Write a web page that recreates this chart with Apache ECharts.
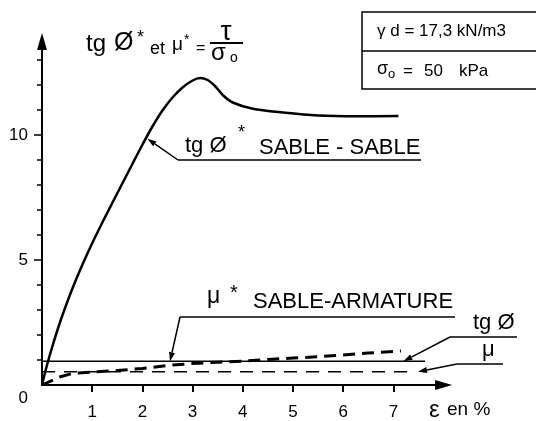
<!DOCTYPE html>
<html>
<head>
<meta charset="utf-8">
<script src="https://cdn.jsdelivr.net/npm/echarts@6/dist/echarts.min.js"></script>
<style>
  html, body { margin: 0; padding: 0; background: #fff; }
  #chart { width: 536px; height: 421px; }
</style>
</head>
<body>
<div id="chart"></div>
<script>
// Strain ε (%) against friction ratio: sand on sand (tg φ*) and sand on strip (μ*)
const sandSandStrain = [0, 0.1, 0.2, 0.3, 0.4, 0.6, 0.8, 1.0, 1.2, 1.4, 1.6, 1.8, 2.0, 2.2, 2.4, 2.6, 2.8, 3.0, 3.15, 3.3, 3.45, 3.6, 3.8, 4.2, 4.8, 5.5, 6.3, 7.1];
const sandSandTan    = [0, 0.8, 1.5, 2.15, 2.75, 3.83, 4.79, 5.67, 6.49, 7.28, 8.06, 8.84, 9.61, 10.34, 10.98, 11.5, 11.9, 12.18, 12.28, 12.2, 11.95, 11.6, 11.3, 11.05, 10.9, 10.78, 10.75, 10.76];

const sandStripStrain = [0, 0.35, 0.6, 1.0, 1.5, 2.0, 2.5, 3.0, 3.5, 4.0, 4.5, 5.0, 5.5, 6.0, 6.5, 7.15];
const sandStripMu     = [0, 0.32, 0.46, 0.52, 0.58, 0.66, 0.78, 0.86, 0.91, 0.95, 1.02, 1.08, 1.13, 1.2, 1.28, 1.36];

// Reference levels: tg φ (solid) and μ (dashed)
const tanPhiStrain = [0, 7.63];
const tanPhiValue  = [0.95, 0.95];
const muStrain = [0, 7.33];
const muValue  = [0.53, 0.53];

// Axis ticks and labels
const xTickValues  = [1, 2, 3, 4, 5, 6, 7];
const yLabelValues = [0, 5, 10];
const yMinorTicks  = [1, 2, 3, 4, 5, 6, 7, 8, 9, 10, 11, 12, 13];
const yMajorTicks  = [5, 10];

const FONT = '"Liberation Sans", Arial, sans-serif';
const INK = '#000';

const pairs = (xs, ys) => xs.map((x, i) => [x, ys[i]]);

const chart = echarts.init(document.getElementById('chart'), null, { renderer: 'canvas' });

const option = {
  animation: false,
  backgroundColor: '#fff',
  grid: { left: 42, right: 92.4, top: 41.5, bottom: 36, containLabel: false },
  xAxis: {
    type: 'value', min: 0, max: 8.0,
    axisLine: { show: true, lineStyle: { color: INK, width: 2 }, symbol: ['none', 'triangle'], symbolSize: [10, 17] },
    axisTick: { show: true, customValues: xTickValues, length: 7, lineStyle: { color: INK, width: 2 } },
    axisLabel: { customValues: xTickValues, margin: 19, fontSize: 17, color: INK, fontFamily: FONT },
    splitLine: { show: false }
  },
  yAxis: [
    {
      type: 'value', min: 0, max: 13.74,
      axisLine: { show: true, lineStyle: { color: INK, width: 2 }, symbol: ['none', 'triangle'], symbolSize: [10, 17] },
      axisTick: { show: true, customValues: yMinorTicks, length: 5, lineStyle: { color: INK, width: 1.5 } },
      axisLabel: {
        customValues: yLabelValues, margin: 14, fontSize: 17, color: INK, fontFamily: FONT,
        formatter: v => (v === 0 ? '{z|0}' : String(v)),
        rich: { z: { fontSize: 17, fontFamily: FONT, color: INK, padding: [26, 0, 0, 0] } }
      },
      splitLine: { show: false }
    },
    {
      type: 'value', min: 0, max: 13.74, position: 'left',
      axisLine: { show: false },
      axisTick: { show: true, customValues: yMajorTicks, length: 8, lineStyle: { color: INK, width: 1.5 } },
      axisLabel: { show: false },
      splitLine: { show: false }
    }
  ],
  series: [
    {
      name: 'tg φ* sable-sable', type: 'line', smooth: 0.3, showSymbol: false,
      lineStyle: { color: INK, width: 2.5 },
      data: pairs(sandSandStrain, sandSandTan)
    },
    {
      name: 'μ* sable-armature', type: 'line', showSymbol: false,
      lineStyle: { color: INK, width: 3, type: [12, 7] },
      data: pairs(sandStripStrain, sandStripMu)
    },
    {
      name: 'tg φ', type: 'line', showSymbol: false,
      lineStyle: { color: INK, width: 1.3 },
      data: pairs(tanPhiStrain, tanPhiValue)
    },
    {
      name: 'μ', type: 'line', showSymbol: false,
      lineStyle: { color: INK, width: 1.3, type: [13, 9] },
      data: pairs(muStrain, muValue)
    }
  ]
};

chart.setOption(option);

// Annotation layer: leaders point at spots on the curves given in data units
const toPx = (x, y) => chart.convertToPixel({ seriesIndex: 0 }, [x, y]);

function leader(from, to) {
  const dx = to[0] - from[0], dy = to[1] - from[1];
  const len = Math.hypot(dx, dy);
  const ux = dx / len, uy = dy / len;
  const hl = 9, hw = 3;
  const bx = to[0] - ux * hl, by = to[1] - uy * hl;
  return [
    { type: 'line', shape: { x1: from[0], y1: from[1], x2: bx, y2: by }, style: { stroke: INK, lineWidth: 1.5 } },
    { type: 'polygon', shape: { points: [to, [bx - uy * hw, by + ux * hw], [bx + uy * hw, by - ux * hw]] }, style: { fill: INK } }
  ];
}
function rule(x1, y1, x2, y2, w) {
  return { type: 'line', shape: { x1, y1, x2, y2 }, style: { stroke: INK, lineWidth: w || 1.5 } };
}
function txt(x, y, text, size, align) {
  return {
    type: 'text', x, y,
    style: { text, font: size + 'px ' + FONT, fill: INK, align: align || 'left', verticalAlign: 'middle' }
  };
}

const graphics = [
  // title: tg Ø* et μ* = τ / σo
  txt(86, 44, 'tg', 24),
  txt(114, 43, 'Ø', 25),
  txt(137, 38, '*', 18),
  txt(150, 49, 'et', 18),
  txt(172, 45, 'μ', 19),
  txt(184, 40, '*', 14),
  txt(196, 49, '=', 16),
  txt(226, 32, 'τ', 28, 'center'),
  rule(210, 43, 243, 43, 2),
  txt(211, 53, 'σ', 24),
  txt(230, 58, 'o', 14),

  // parameter box
  { type: 'rect', shape: { x: 362, y: 12, width: 200, height: 77 }, style: { stroke: INK, fill: 'none', lineWidth: 1.5 } },
  rule(362, 51, 536, 51, 1.5),
  txt(377, 31, 'γ d = 17,3 kN/m3', 17),
  txt(377, 69, 'σ', 18),
  txt(388, 74, 'o', 13),
  txt(403, 71, '=', 17),
  txt(424, 71, '50', 17),
  txt(459, 71, 'kPa', 17),

  // tg Ø* SABLE-SABLE
  txt(185, 146, 'tg Ø', 22),
  txt(238, 133, '*', 18),
  txt(259, 148, 'SABLE - SABLE', 22),
  rule(178, 160, 421, 160),
  ...leader([178, 160], toPx(2.1, 9.85)),

  // μ* SABLE-ARMATURE
  txt(207, 297, 'μ', 23),
  txt(230, 293, '*', 20),
  txt(253, 302, 'SABLE-ARMATURE', 22),
  rule(180, 317, 455, 317),
  ...leader([180, 317], toPx(2.55, 0.95)),

  // tg Ø
  txt(473, 323, 'tg Ø', 22),
  rule(450, 337, 517, 337),
  ...leader([450, 337], toPx(7.2, 0.95)),

  // μ
  txt(482, 350, 'μ', 22),
  rule(457, 364, 503, 364),
  ...leader([457, 364], toPx(7.49, 0.53)),

  // strain unit
  txt(429, 410, 'ε', 24),
  txt(447, 410, 'en %', 19)
];

chart.setOption({ graphic: graphics });
</script>
</body>
</html>
